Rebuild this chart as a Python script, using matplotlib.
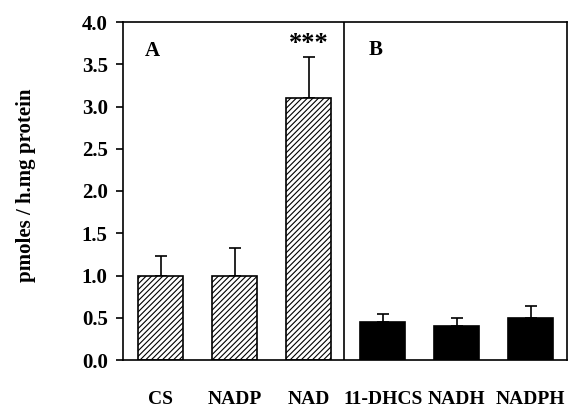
import matplotlib
matplotlib.use("Agg")
import matplotlib.pyplot as plt
import numpy as np

categories = ["CS", "NADP", "NAD", "11-DHCS", "NADH", "NADPH"]
values = [1.00, 0.99, 3.10, 0.45, 0.40, 0.50]
errors = [0.23, 0.33, 0.48, 0.09, 0.10, 0.14]
panel_a = [0, 1, 2]
panel_b = [3, 4, 5]
yticks = [0.0, 0.5, 1.0, 1.5, 2.0, 2.5, 3.0, 3.5, 4.0]

plt.rcParams['font.family'] = ['Liberation Serif', 'DejaVu Serif']
plt.rcParams['font.weight'] = 'bold'
plt.rcParams['hatch.linewidth'] = 0.8

W, H = 568, 407
fig = plt.figure(figsize=(W / 100, H / 100), dpi=100)
ax = fig.add_axes([123 / W, (H - 360) / H, (567 - 123) / W, (360 - 22) / H])

x = np.arange(len(categories))
width = 0.61
xa = x[panel_a]
xb = x[panel_b]
ax.bar(xa, [values[i] for i in panel_a], width, color='white', edgecolor='black',
       hatch='//////', linewidth=1.2, zorder=2)
ax.bar(xb, [values[i] for i in panel_b], width, color='black', edgecolor='black',
       linewidth=1.2, zorder=2)
ax.errorbar(x, values, yerr=[np.zeros(len(values)), errors], fmt='none',
            ecolor='black', elinewidth=1.2, capsize=4, capthick=1.2, zorder=1)

ax.axvline(2.48, color='black', linewidth=1.2)

ax.set_xlim(-0.51, 5.49)
ax.set_ylim(0, 4.0)
ax.set_yticks(yticks)
ax.set_yticklabels([f"{t:.1f}" for t in yticks], fontsize=15, fontweight='bold')
ax.set_xticks(x)
ax.set_xticklabels(categories, fontsize=14, fontweight='bold')
ax.tick_params(axis='x', length=0, pad=22)
ax.tick_params(axis='y', direction='out', length=5, width=1.2, pad=6)
for s in ax.spines.values():
    s.set_linewidth(1.2)

ax.set_ylabel("pmoles / h.mg protein", fontsize=15, fontweight='bold')
ax.yaxis.set_label_coords(-0.196, 0.518)

ax.text(-0.12, 3.66, "A", fontsize=15, fontweight='bold', ha='center', va='center')
ax.text(2.90, 3.67, "B", fontsize=15, fontweight='bold', ha='center', va='center')
ax.text(2.0, 3.74, "***", fontsize=19, fontweight='bold', ha='center', va='center')

fig.savefig("out.png", dpi=100)
